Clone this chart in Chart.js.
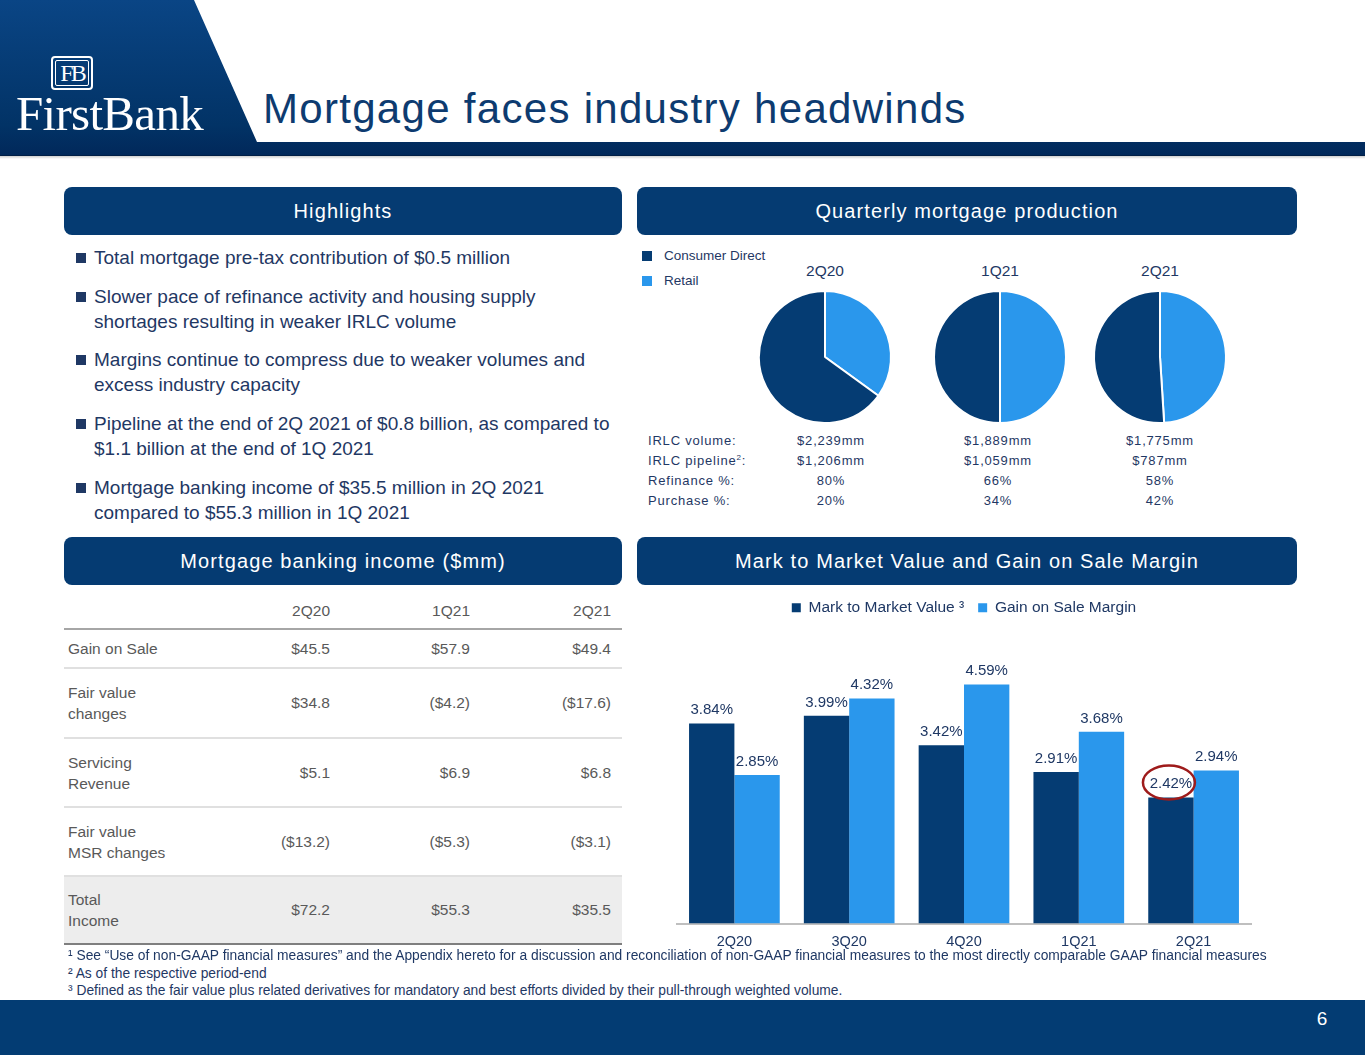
<!DOCTYPE html>
<html>
<head>
<meta charset="utf-8">
<script src="https://cdn.jsdelivr.net/npm/chart.js@4.4.1/dist/chart.umd.min.js"></script>
<style>
  html, body { margin: 0; padding: 0; }
  body { width: 1365px; height: 1055px; position: relative; overflow: hidden; background: #fff;
         font-family: "Liberation Sans", Arial, sans-serif; color: #1f3864; }
  .abs { position: absolute; }
  #band { left: 0; top: 0; width: 1365px; height: 156px;
          background: linear-gradient(#0a4585, #023366 80%, #01285a);
          clip-path: polygon(0 0, 194px 0, 257px 142px, 1365px 142px, 1365px 156px, 0 156px); }
  #shadow { left: 0; top: 155px; width: 1365px; height: 4px; background: linear-gradient(rgba(0,0,0,.25), rgba(0,0,0,0)); }
  #fb { left: 51px; top: 56px; width: 38px; height: 30px; border: 2px solid #fff; border-radius: 4px; }
  #fb div { position: absolute; left: 2px; top: 2px; right: 2px; bottom: 2px; border: 1px solid #fff; border-radius: 2px;
            font-family: "Liberation Serif", serif; color: #fff; font-size: 24px; line-height: 24px; text-align: center; letter-spacing: -3px; }
  #firstbank { left: 16px; top: 96px; font-family: "Liberation Serif", serif; color: #fff; font-size: 49px; letter-spacing: -0.7px; line-height: 36px; }
  #title { left: 263px; top: 84px; font-size: 42px; line-height: 50px; color: #0d3b70; letter-spacing: 1.3px; }
  .hdr { background: #053b72; border-radius: 8px; color: #fff; font-size: 20px; letter-spacing: 1.1px;
         text-align: center; height: 48px; line-height: 48px; }
  .bul { left: 76px; width: 535px; font-size: 19px; line-height: 25px; color: #1f3864; }
  .bul .sq { position: absolute; left: 0; top: 8px; width: 10px; height: 10px; background: #1f3864; }
  .bul .tx { margin-left: 18px; }
  .leg { font-size: 13.5px; color: #1f3864; }
  .leg .sq { display: inline-block; width: 10px; height: 10px; vertical-align: -1px; margin-right: 12px; }
  .pt { font-size: 15.5px; color: #1f3864; text-align: center; width: 80px; }
  .stat { font-size: 13px; color: #1f3864; letter-spacing: 0.8px; }
  table { border-collapse: collapse; table-layout: fixed; font-size: 15.5px; color: #595959; }
  td { padding: 0; }
  .foot { left: 68px; font-family: "Liberation Sans Narrow", "Liberation Sans", Arial, sans-serif; font-size: 13.8px; color: #1f3864; white-space: nowrap; }
  #footer { left: 0; top: 1000px; width: 1365px; height: 55px; background: #033c73; }
  #page { left: 1310px; top: 1008px; width: 24px; text-align: center; color: #fff; font-size: 19px; }
</style>
</head>
<body>
<div id="band" class="abs"></div>
<div id="shadow" class="abs"></div>
<div id="fb" class="abs"><div>FB</div></div>
<div id="firstbank" class="abs">FirstBank</div>
<div id="title" class="abs">Mortgage faces industry headwinds</div>

<div class="abs hdr" style="left:64px;top:187px;width:558px;">Highlights</div>
<div class="abs hdr" style="left:637px;top:187px;width:660px;">Quarterly mortgage production</div>
<div class="abs hdr" style="left:64px;top:537px;width:558px;">Mortgage banking income ($mm)</div>
<div class="abs hdr" style="left:637px;top:537px;width:660px;">Mark to Market Value and Gain on Sale Margin</div>

<div id="bullets"></div>

<div class="abs leg" style="left:642px;top:248px;"><span class="sq" style="background:#053c73"></span>Consumer Direct</div>
<div class="abs leg" style="left:642px;top:273px;"><span class="sq" style="background:#2a97ec"></span>Retail</div>

<div id="pies"></div>
<div id="stats"></div>

<div id="tbl" class="abs" style="left:64px;top:594px;"></div>

<div class="abs" style="left:667px;top:586px;width:594px;height:375px;"><canvas id="barChart"></canvas></div>

<div class="abs foot" style="top:948px;">¹ See “Use of non-GAAP financial measures” and the Appendix hereto for a discussion and reconciliation of non-GAAP financial measures to the most directly comparable GAAP financial measures</div>
<div class="abs foot" style="top:966px;">² As of the respective period-end</div>
<div class="abs foot" style="top:983px;">³ Defined as the fair value plus related derivatives for mandatory and best efforts divided by their pull-through weighted volume.</div>

<div id="footer" class="abs"></div>
<div id="page" class="abs">6</div>

<script>
// Highlights
const highlights = [
  'Total mortgage pre-tax contribution of $0.5 million',
  'Slower pace of refinance activity and housing supply shortages resulting in weaker IRLC volume',
  'Margins continue to compress due to weaker volumes and excess industry capacity',
  'Pipeline at the end of 2Q 2021 of $0.8 billion, as compared to $1.1 billion at the end of 1Q 2021',
  'Mortgage banking income of $35.5 million in 2Q 2021 compared to $55.3 million in 1Q 2021'
];

// Quarterly mortgage production (pies)
const pieQuarters = ['2Q20', '1Q21', '2Q21'];
const retailShare = [35, 50, 49];
const consumerDirectShare = [65, 50, 51];
const statLabels = ['IRLC volume:', 'IRLC pipeline<sup style="font-size:8px">2</sup>:', 'Refinance %:', 'Purchase %:'];
const irlcVolume = ['$2,239mm', '$1,889mm', '$1,775mm'];
const irlcPipeline = ['$1,206mm', '$1,059mm', '$787mm'];
const refinancePct = ['80%', '66%', '58%'];
const purchasePct = ['20%', '34%', '42%'];

// Mortgage banking income table
const tableQuarters = ['2Q20', '1Q21', '2Q21'];
const tableRows = ['Gain on Sale', 'Fair value<br>changes', 'Servicing<br>Revenue', 'Fair value<br>MSR changes', 'Total<br>Income'];
const gainOnSale = ['$45.5', '$57.9', '$49.4'];
const fairValueChanges = ['$34.8', '($4.2)', '($17.6)'];
const servicingRevenue = ['$5.1', '$6.9', '$6.8'];
const fairValueMsr = ['($13.2)', '($5.3)', '($3.1)'];
const totalIncome = ['$72.2', '$55.3', '$35.5'];

// Bar chart
const barQuarters = ['2Q20', '3Q20', '4Q20', '1Q21', '2Q21'];
const markToMarket = [3.84, 3.99, 3.42, 2.91, 2.42];
const gainOnSaleMargin = [2.85, 4.32, 4.59, 3.68, 2.94];

const DARK = '#053c73';
const LIGHT = '#2a97ec';

// bullets
const bulletTops = [245, 284, 347, 411, 475];
let bh = '';
highlights.forEach((t, i) => {
  bh += `<div class="abs bul" style="top:${bulletTops[i]}px"><span class="sq"></span><div class="tx">${t}</div></div>`;
});
document.getElementById('bullets').innerHTML = bh;

// pies + stats
const pieCenters = [825, 1000, 1160];
const statCols = [831, 998, 1160];
let ph = '';
pieQuarters.forEach((q, i) => {
  ph += `<div class="abs pt" style="left:${pieCenters[i] - 40}px;top:262px">${q}</div>`;
  ph += `<div class="abs" style="left:${pieCenters[i] - 70}px;top:287px;width:140px;height:140px"><canvas id="pie${i}" width="140" height="140"></canvas></div>`;
});
document.getElementById('pies').innerHTML = ph;

const statValues = [irlcVolume, irlcPipeline, refinancePct, purchasePct];
let sh = '';
statLabels.forEach((lab, r) => {
  const top = 433 + r * 20;
  sh += `<div class="abs stat" style="left:648px;top:${top}px">${lab}</div>`;
  statValues[r].forEach((v, c) => {
    sh += `<div class="abs stat" style="left:${statCols[c] - 50}px;width:100px;text-align:center;top:${top}px">${v}</div>`;
  });
});
document.getElementById('stats').innerHTML = sh;

pieQuarters.forEach((q, i) => {
  new Chart(document.getElementById('pie' + i), {
    type: 'pie',
    data: {
      labels: ['Retail', 'Consumer Direct'],
      datasets: [{
        data: [retailShare[i], consumerDirectShare[i]],
        backgroundColor: [LIGHT, DARK],
        borderColor: '#ffffff',
        borderWidth: 2,
        radius: 66
      }]
    },
    options: {
      responsive: false,
      animation: false,
      plugins: { legend: { display: false }, tooltip: { enabled: false } }
    }
  });
});

// table
const tableValues = [gainOnSale, fairValueChanges, servicingRevenue, fairValueMsr, totalIncome];
const rowHeights = [39, 70, 69, 69, 68];
let th = '<table style="width:558px"><colgroup><col style="width:137px"><col style="width:140px"><col style="width:140px"><col style="width:141px"></colgroup>';
th += '<tr style="height:35px;border-bottom:2px solid #a6a6a6"><td></td>';
tableQuarters.forEach(q => { th += `<td style="text-align:right;padding-right:11px">${q}</td>`; });
th += '</tr>';
tableRows.forEach((lab, r) => {
  const last = r === tableRows.length - 1;
  const border = last ? '2px solid #7f7f7f' : '2px solid #e0e0e0';
  th += `<tr style="height:${rowHeights[r]}px;border-bottom:${border};${last ? 'background:#ededed;' : ''}">`;
  th += `<td style="padding-left:4px;line-height:21px">${lab}</td>`;
  tableValues[r].forEach(v => { th += `<td style="text-align:right;padding-right:11px">${v}</td>`; });
  th += '</tr>';
});
th += '</table>';
document.getElementById('tbl').innerHTML = th;

// value labels + highlight ellipse
const barLabels = {
  id: 'barLabels',
  afterDatasetsDraw(chart) {
    const ctx = chart.ctx;
    ctx.save();
    ctx.font = '15px "Liberation Sans", Arial, sans-serif';
    ctx.fillStyle = '#1f3864';
    ctx.textAlign = 'center';
    ctx.textBaseline = 'alphabetic';
    chart.data.datasets.forEach((ds, di) => {
      chart.getDatasetMeta(di).data.forEach((el, i) => {
        ctx.fillText(ds.data[i].toFixed(2) + '%', el.x, el.y - 9);
      });
    });
    // circle around latest mark to market value
    const last = chart.getDatasetMeta(0).data[markToMarket.length - 1];
    ctx.beginPath();
    ctx.ellipse(last.x - 2, last.y - 15, 26, 17, 0, 0, Math.PI * 2);
    ctx.strokeStyle = '#9e1b1b';
    ctx.lineWidth = 2.5;
    ctx.stroke();
    ctx.restore();
  }
};

new Chart(document.getElementById('barChart'), {
  type: 'bar',
  data: {
    labels: barQuarters,
    datasets: [
      { label: 'Mark to Market Value \u00B3', data: markToMarket, backgroundColor: DARK },
      { label: 'Gain on Sale Margin', data: gainOnSaleMargin, backgroundColor: LIGHT }
    ]
  },
  options: {
    responsive: true,
    maintainAspectRatio: false,
    animation: false,
    categoryPercentage: 0.79,
    barPercentage: 1.0,
    layout: { padding: { left: 10, right: 10, top: 0, bottom: 0 } },
    scales: {
      x: {
        grid: { display: false, drawTicks: false },
        border: { display: true, color: '#bfbfbf', width: 2 },
        ticks: { color: '#1f3864', font: { size: 14.5, family: '"Liberation Sans", Arial, sans-serif' }, padding: 10 }
      },
      y: { display: false, min: 0, max: 5.72 }
    },
    plugins: {
      legend: {
        position: 'top',
        labels: {
          color: '#1f3864',
          boxWidth: 9,
          boxHeight: 9,
          padding: 14,
          font: { size: 15.5, family: '"Liberation Sans", Arial, sans-serif' }
        }
      },
      tooltip: { enabled: false }
    }
  },
  plugins: [barLabels]
});
</script>
</body>
</html>
